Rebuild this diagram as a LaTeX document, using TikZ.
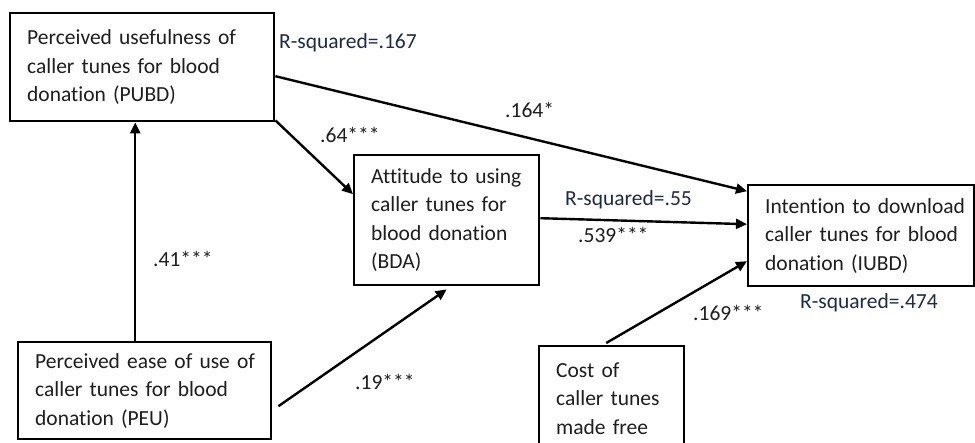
\documentclass[tikz,border=0pt]{standalone}
\usepackage{fontspec}
\setmainfont{Carlito}[Ligatures={NoCommon}]
\usetikzlibrary{arrows.meta,calc}
\definecolor{txt}{HTML}{1E1E1E}
\definecolor{rsq}{HTML}{1F2A44}
\newcommand{\oneline}[1]{\mbox{#1}}
\begin{document}
\begin{tikzpicture}[x=1pt,y=-1pt,
  box/.style={draw=black,line width=2.4pt,fill=white,align=left,inner xsep=17pt,inner ysep=0pt,
    font=\fontsize{21.5}{28.5}\selectfont,text=txt,anchor=north west},
  lbl/.style={font=\fontsize{21.5}{24}\selectfont,text=txt,anchor=west,inner sep=0pt},
  rlbl/.style={lbl,text=rsq},
  arr/.style={line width=2.4pt,-{Triangle[length=11pt,width=10pt]}}]
\useasboundingbox (0,0) rectangle (975,443);
\fill[white] (0,0) rectangle (975,443);
\node[box,text width=230pt,minimum height=108pt] (pubd) at (9,12)
  {\oneline{Perceived usefulness of}\\\oneline{caller tunes for blood}\\\oneline{donation (PUBD)}};
\node[box,text width=151pt,minimum height=130pt] (bda) at (353,154)
  {\oneline{Attitude to using}\\\oneline{caller tunes for}\\\oneline{blood donation}\\\oneline{(BDA)}};
\node[box,text width=192pt,minimum height=101pt] (iubd) at (747,184)
  {\oneline{Intention to download}\\\oneline{caller tunes for blood}\\\oneline{donation (IUBD)}};
\node[box,text width=219pt,minimum height=97pt] (peu) at (17,341)
  {\oneline{Perceived ease of use of}\\\oneline{caller tunes for blood}\\\oneline{donation (PEU)}};
\node[box,text width=111pt,minimum height=105pt] (cost) at (538,345)
  {\oneline{Cost of}\\\oneline{caller tunes}\\\oneline{made free}};
% connectors
\draw[arr] ([xshift=-9.5pt]peu.north) -- ([xshift=-7pt]pubd.south);
\draw[arr] ([yshift=-9pt]pubd.east) -- ([yshift=44.5pt]iubd.west);
\draw[arr] ([yshift=2pt]pubd.south east) -- ([yshift=26pt]bda.west);
\draw[arr] ([yshift=2pt]bda.east) -- ([yshift=11.5pt]iubd.west);
\draw[arr] ([xshift=6pt,yshift=-15.5pt]peu.east) -- ([yshift=-3pt]bda.south);
\draw[arr] ([xshift=-5.5pt,yshift=2pt]cost.north) -- ([yshift=-25.5pt]iubd.west);
% labels
\node[rlbl] (r1) at (279,43) {R-squared=.167};
\node[lbl] (l164) at (505,110) {.164*};
\node[lbl] (l64) at (320,135) {.64***};
\node[rlbl] (r2) at (565,200) {R-squared=.55};
\node[lbl] (l539) at (578,235) {.539***};
\node[lbl] (l41) at (153,259) {.41***};
\node[lbl] (l19) at (355,382) {.19***};
\node[lbl] (l169) at (693,313) {.169***};
\node[rlbl] (r3) at (800,303) {R-squared=.474};
\end{tikzpicture}
\end{document}
